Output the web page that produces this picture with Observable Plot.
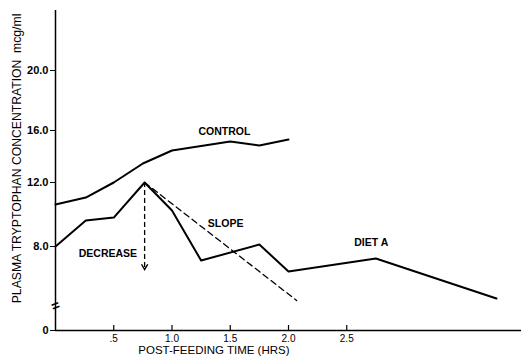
<!DOCTYPE html>
<html>
<head>
<meta charset="utf-8">
<script src="https://cdn.jsdelivr.net/npm/d3@7"></script>
<script src="https://cdn.jsdelivr.net/npm/@observablehq/plot@0.6"></script>
<style>
  html, body { margin: 0; padding: 0; background: #fff; }
  #chart { width: 521px; height: 364px; }
</style>
</head>
<body>
<div id="chart"></div>
<script>
// Data
const controlTime = [0, 0.26, 0.5, 0.75, 1.0, 1.5, 1.75, 2.0];
const controlConc = [10.63, 11.06, 12.0, 13.46, 14.46, 15.15, 14.85, 15.3];
const dietATime = [0, 0.26, 0.5, 0.765, 1.0, 1.25, 1.75, 2.0, 2.75, 3.785];
const dietAConc = [8.0, 9.63, 9.81, 12.0, 10.25, 7.05, 8.12, 6.31, 7.19, 4.47];
const slopeTime = [0.765, 2.07];
const slopeConc = [12.0, 4.34];
const decreaseTime = [0.765];
const decreaseFrom = [12.0];
const decreaseTo = [6.44];
const labelText = ["CONTROL", "SLOPE", "DECREASE", "DIET A"];
const labelTime = [1.45, 1.46, 0.45, 2.71];
const labelConc = [15.9, 9.44, 7.53, 8.25];
const yTicks = [0, 8, 12, 16, 20];
const xTicks = [0.5, 1.0, 1.5, 2.0, 2.5];
const yTitle = "PLASMA TRYPTOPHAN CONCENTRATION\u00a0\u00a0mcg/ml";
const xTitle = "POST-FEEDING TIME (HRS)";

const control = controlTime.map((t, i) => ({t, v: controlConc[i]}));
const dietA = dietATime.map((t, i) => ({t, v: dietAConc[i]}));
const slope = slopeTime.map((t, i) => ({t, v: slopeConc[i]}));
const labels = labelText.map((s, i) => ({s, t: labelTime[i], v: labelConc[i]}));

// open "V" arrowhead symbol, tip at the anchor point
const chevron = {
  draw(context, size) {
    const r = Math.sqrt(size) / 2;
    context.moveTo(-r, -r * 1.7);
    context.lineTo(0, 0);
    context.lineTo(r, -r * 1.7);
  }
};

const chart = Plot.plot({
  width: 521,
  height: 364,
  marginLeft: 55,
  marginRight: 0,
  marginTop: 10,
  marginBottom: 34,
  style: {fontFamily: "'Liberation Sans', Arial, sans-serif", background: "#fff", color: "#000"},
  x: {domain: [0, 4], axis: null},
  y: {type: "linear", domain: [0, 4, 8, 12, 16, 20, 24], range: [330, 305, 246, 182, 130, 70, 10], axis: null},
  marks: [
    Plot.ruleX([0], {y1: 0, y2: 24, strokeWidth: 1.5}),
    Plot.ruleY([0], {x1: 0, x2: 4, strokeWidth: 1.5}),
    Plot.axisY({ticks: yTicks, tickSize: 5, tickPadding: 2, fontSize: 11, fontWeight: "bold", label: null,
      tickFormat: d => d === 0 ? "0" : d.toFixed(1)}),
    Plot.ruleX(xTicks, {y1: 0, y2: 0.8, strokeWidth: 1.2}),
    Plot.axisX({ticks: xTicks, tickSize: 0, tickPadding: 4, fontSize: 10, label: null,
      tickFormat: d => d === 0.5 ? ".5" : d.toFixed(1)}),
    Plot.text([xTitle], {x: () => 1.36, frameAnchor: "bottom", dy: 23, fontSize: 11.5, text: d => d}),
    Plot.text([yTitle], {x: () => 0, y: () => 13.85, textAnchor: "middle", rotate: -90, dx: -38, fontSize: 12.2, text: d => d}),
    Plot.text(["="], {x: () => 0, y: () => 3.95, fontSize: 14, fontWeight: "bold", rotate: -20, text: d => d}),
    Plot.line(control, {x: "t", y: "v", strokeWidth: 2}),
    Plot.line(dietA, {x: "t", y: "v", strokeWidth: 2}),
    Plot.line(slope, {x: "t", y: "v", strokeWidth: 1.3, strokeDasharray: "6,4"}),
    Plot.ruleX(decreaseTime, {y1: decreaseFrom, y2: decreaseTo, strokeWidth: 1.3, strokeDasharray: "5,3"}),
    Plot.dot(decreaseTime, {x: d => d, y: decreaseTo, symbol: chevron, r: 3.5, fill: "none", stroke: "#000", strokeWidth: 1.4}),
    Plot.text(labels, {x: "t", y: "v", text: "s", fontSize: 10.5, fontWeight: "bold"})
  ]
});
document.getElementById("chart").appendChild(chart);
</script>
</body>
</html>
